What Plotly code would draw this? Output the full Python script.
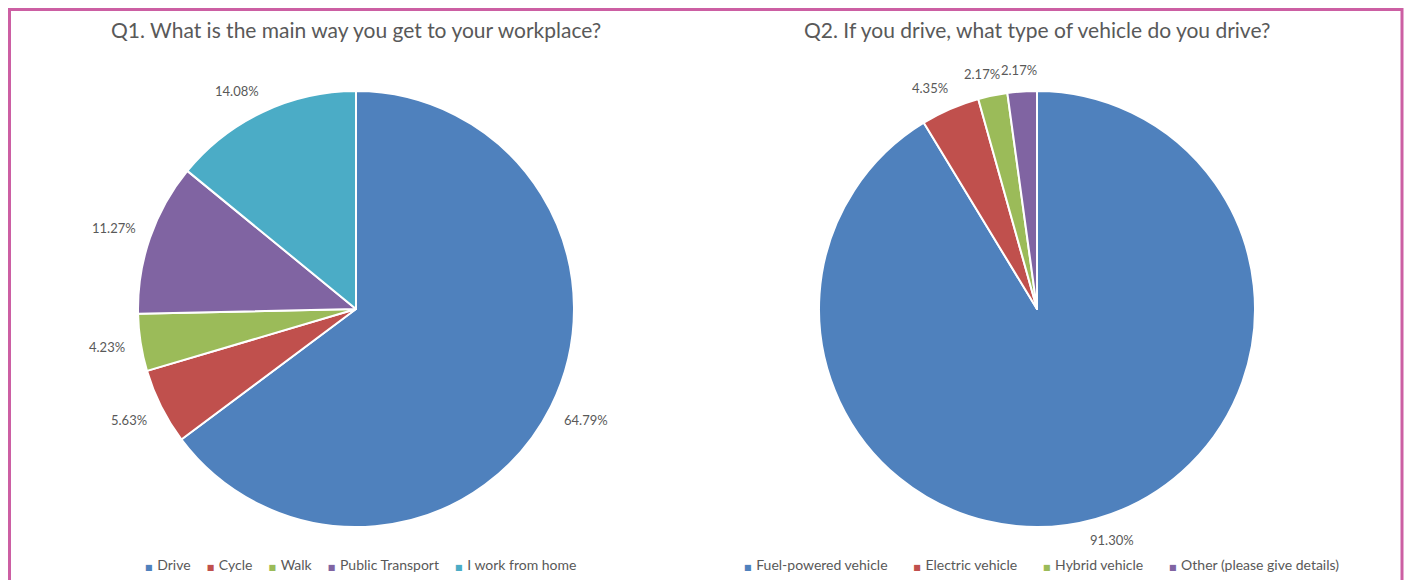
import math
import plotly.graph_objects as go

# Survey results (percent of respondents)
q1_title = "Q1. What is the main way you get to your workplace?"
q1_labels = ["Drive", "Cycle", "Walk", "Public Transport", "I work from home"]
q1_values = [64.79, 5.63, 4.23, 11.27, 14.08]

q2_title = "Q2. If you drive, what type of vehicle do you drive?"
q2_labels = ["Fuel-powered vehicle", "Electric vehicle", "Hybrid vehicle", "Other (please give details)"]
q2_values = [91.30, 4.35, 2.17, 2.17]

palette = ["#4F81BD", "#C0504D", "#9BBB59", "#8064A2", "#4BACC6"]

W, H = 1405, 580
FONT = "Lato"
GREY = "#595959"
RADIUS = 218
PIE_CY = 309
PIES = [
    dict(title=q1_title, labels=q1_labels, values=q1_values, cx=356,
         legend_cx=360, legend_sep="\u2003\u2004\u200a"),
    dict(title=q2_title, labels=q2_labels, values=q2_values, cx=1037,
         legend_cx=1041, legend_sep="\u2003\u2003\u2004"),
]


def px_x(x):
    return x / W


def px_y(y):
    return 1 - y / H


def px_domain(cx, cy, r):
    return dict(x=[px_x(cx - r), px_x(cx + r)], y=[px_y(cy + r), px_y(cy - r)])


def clip(v):
    return max(-1.0, min(1.0, v))


def outside_end_labels(values, cx, cy, r, gap=15, char_w=7.4, text_h=14):
    """Percentage labels just beyond the rim, at each slice's mid-angle
    (slices run clockwise from 12 o'clock)."""
    total = sum(values)
    out = []
    cum = 0.0
    for v in values:
        mid = (cum + v / 2) / total * 2 * math.pi
        cum += v
        dx, dy = math.sin(mid), -math.cos(mid)
        text = f"{v:.2f}%"
        w = char_w * len(text)
        x = cx + dx * (r + gap) + w / 2 * clip(2 * dx)
        y = cy + dy * (r + gap) + text_h / 2 * clip(2 * dy)
        out.append(dict(text=text, x=px_x(x), y=px_y(y), xref="paper", yref="paper",
                        showarrow=False, xanchor="center", yanchor="middle",
                        font=dict(family=FONT, size=13, color=GREY)))
    return out


def legend_text(labels, sep):
    items = []
    for lab, col in zip(labels, palette):
        swatch = (f"<span style=\"font-family:'DejaVu Sans';font-size:8px;color:{col}\">"
                  "\u25A0</span>")
        items.append(f"{swatch}\u2004{lab}")
    return sep.join(items)


fig = go.Figure()
annotations = []
for p in PIES:
    fig.add_trace(go.Pie(
        labels=p["labels"],
        values=p["values"],
        sort=False,
        direction="clockwise",
        rotation=0,
        domain=px_domain(p["cx"], PIE_CY, RADIUS),
        marker=dict(colors=palette[:len(p["values"])], line=dict(color="white", width=2)),
        textinfo="none",
        hoverinfo="label+value",
        showlegend=False,
    ))
    annotations.append(dict(text=p["title"], x=px_x(p["cx"]), y=px_y(30),
                            xref="paper", yref="paper", showarrow=False,
                            xanchor="center", yanchor="middle",
                            font=dict(family=FONT, size=21, color=GREY)))
    annotations.extend(outside_end_labels(p["values"], p["cx"], PIE_CY, RADIUS))
    annotations.append(dict(text=legend_text(p["labels"], p["legend_sep"]),
                            x=px_x(p["legend_cx"]), y=px_y(564),
                            xref="paper", yref="paper", showarrow=False,
                            xanchor="center", yanchor="middle",
                            font=dict(family=FONT, size=14, color=GREY)))

fig.update_layout(
    width=W,
    height=H,
    margin=dict(l=0, r=0, t=0, b=0),
    paper_bgcolor="white",
    plot_bgcolor="white",
    font=dict(family=FONT, color=GREY),
    showlegend=False,
    annotations=annotations,
    shapes=[
        dict(type="rect", xref="paper", yref="paper",
             x0=px_x(9.5), x1=px_x(1402), y0=-0.05, y1=px_y(9.5),
             line=dict(color="#CC5FA3", width=3), fillcolor="rgba(0,0,0,0)"),
    ],
)

fig.write_html("out.html")
